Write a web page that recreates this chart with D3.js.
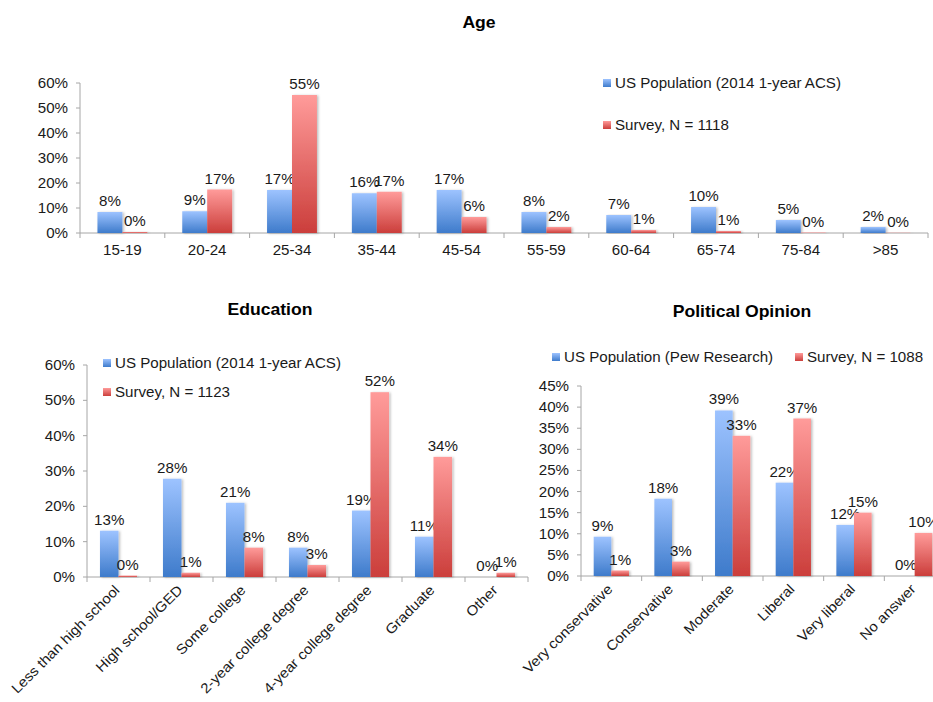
<!DOCTYPE html>
<html lang="en">
<head>
<meta charset="UTF-8">
<title>Age, Education and Political Opinion</title>
<script src="https://d3js.org/d3.v7.min.js"></script>
<style>
    body { margin: 0; background: #fff; }
    svg { display: block; font-family: Arial, "Liberation Sans", sans-serif; }
    .axis-line { stroke: #a6a6a6; stroke-width: 1; }
    .tick-label, .cat-label, .val-label, .legend-text { font-size: 14px; fill: #1a1a1a; }
    .title { font-size: 16px; font-weight: bold; fill: #000; }
</style>
</head>
<body>
<div id="chart"></div>
<script>
// Age
const ageCats = ["15-19", "20-24", "25-34", "35-44", "45-54", "55-59", "60-64", "65-74", "75-84", ">85"];
const agePop = [8.4, 8.7, 17.2, 15.9, 17.2, 8.4, 7.2, 10.4, 5.2, 2.4];
const ageSurvey = [0.4, 17.4, 55.2, 16.5, 6.4, 2.4, 1.2, 0.8, 0.2, 0.1];
const ageTicks = [0, 10, 20, 30, 40, 50, 60];
const ageLegend = ["US Population (2014 1-year ACS)", "Survey, N = 1118"];

// Education
const eduCats = ["Less than high school", "High school/GED", "Some college", "2-year college degree", "4-year college degree", "Graduate", "Other"];
const eduPop = [13.1, 27.8, 21.0, 8.3, 18.8, 11.4, 0];
const eduSurvey = [0.4, 1.2, 8.3, 3.4, 52.3, 34.0, 1.2];
const eduTicks = [0, 10, 20, 30, 40, 50, 60];
const eduLegend = ["US Population (2014 1-year ACS)", "Survey, N = 1123"];

// Political opinion
const polCats = ["Very conservative", "Conservative", "Moderate", "Liberal", "Very liberal", "No answer"];
const polPop = [9.3, 18.3, 39.2, 22.1, 12.1, 0];
const polSurvey = [1.3, 3.4, 33.2, 37.3, 15.0, 10.2];
const polTicks = [0, 5, 10, 15, 20, 25, 30, 35, 40, 45];
const polLegend = ["US Population (Pew Research)", "Survey, N = 1088"];

const series = ["pop", "survey"];
const STRETCH = 1.08;   // the original text is a little wider than Arial

const svg = d3.select("#chart").append("svg")
    .attr("width", 933)
    .attr("height", 702);

svg.append("rect").attr("width", 933).attr("height", 702).attr("fill", "#fff");

const defs = svg.append("defs");
function gradient(id, top, bottom) {
    const g = defs.append("linearGradient").attr("id", id)
        .attr("x1", 0).attr("y1", 0).attr("x2", 0).attr("y2", 1);
    g.append("stop").attr("offset", "0%").attr("stop-color", top);
    g.append("stop").attr("offset", "100%").attr("stop-color", bottom);
}
gradient("grad-pop", "#9dc3ff", "#3e7bcb");
gradient("grad-survey", "#ff9b9a", "#cb3e3b");

const shadow = defs.append("filter").attr("id", "shadow")
    .attr("x", "-20%").attr("y", "-5%").attr("width", "150%").attr("height", "110%");
shadow.append("feDropShadow").attr("dx", 1.5).attr("dy", 0.5)
    .attr("stdDeviation", 0.8).attr("flood-color", "#000").attr("flood-opacity", 0.25);

const fills = { pop: "url(#grad-pop)", survey: "url(#grad-survey)" };

// text placed at (x, y), stretched horizontally a bit
function label(g, cls, x, y, txt, anchor, rot, sx) {
    return g.append("text").attr("class", cls)
        .attr("text-anchor", anchor || "start")
        .attr("transform", `translate(${x},${y})` + (rot ? ` rotate(${rot})` : "") + ` scale(${sx || STRETCH},1)`)
        .text(txt);
}

function drawChart(cfg) {
    const g = svg.append("g");

    const x = d3.scaleBand().domain(cfg.cats).range([cfg.x0, cfg.x1]).padding(0);
    const xs = d3.scaleBand().domain(series).range([0, x.bandwidth()])
        .paddingInner(0).paddingOuter(cfg.outer);
    const y = d3.scaleLinear().domain([0, d3.max(cfg.ticks)]).range([cfg.yBottom, cfg.yTop]);

    // title
    label(g, "title", cfg.titleX, cfg.titleY, cfg.title, "middle", 0, 1.1);

    // y axis
    g.append("line").attr("class", "axis-line")
        .attr("x1", cfg.x0).attr("x2", cfg.x0)
        .attr("y1", y(d3.max(cfg.ticks))).attr("y2", cfg.yBottom);
    cfg.ticks.forEach(t => {
        g.append("line").attr("class", "axis-line")
            .attr("x1", cfg.x0 - 4).attr("x2", cfg.x0)
            .attr("y1", y(t)).attr("y2", y(t));
        label(g, "tick-label", cfg.x0 - 12, y(t) + 5, t + "%", "end");
    });

    // x axis
    g.append("line").attr("class", "axis-line")
        .attr("x1", cfg.x0).attr("x2", cfg.x1)
        .attr("y1", cfg.yBottom).attr("y2", cfg.yBottom);
    cfg.cats.concat([null]).forEach(c => {
        const px = c === null ? cfg.x1 : x(c);
        g.append("line").attr("class", "axis-line")
            .attr("x1", px).attr("x2", px)
            .attr("y1", cfg.yBottom).attr("y2", cfg.yBottom + 5);
    });

    // category labels
    cfg.cats.forEach(c => {
        const cx = x(c) + x.bandwidth() / 2;
        if (cfg.rotate) {
            label(g, "cat-label", cx + 2, cfg.yBottom + 14, c, "end", -45);
        } else {
            label(g, "cat-label", cx, cfg.yBottom + 22, c, "middle");
        }
    });

    // bars + labels
    const vals = { pop: cfg.pop, survey: cfg.survey };
    series.forEach(s => {
        cfg.cats.forEach((c, i) => {
            const v = vals[s][i];
            const bx = x(c) + xs(s);
            if (v > 0) {
                g.append("rect")
                    .attr("x", bx).attr("y", y(v))
                    .attr("width", xs.bandwidth())
                    .attr("height", cfg.yBottom - y(v))
                    .attr("fill", fills[s])
                    .attr("filter", "url(#shadow)");
            }
            label(g, "val-label", bx + xs.bandwidth() / 2, y(v) - 6, Math.round(v) + "%", "middle");
        });
    });

    // legend
    cfg.legend.forEach((txt, i) => {
        const lx = cfg.legendPos[i][0], ly = cfg.legendPos[i][1];
        g.append("rect").attr("x", lx).attr("y", ly - 4)
            .attr("width", 8).attr("height", 8)
            .attr("fill", fills[series[i]]);
        label(g, "legend-text", lx + 12, ly + 5, txt);
    });
}

drawChart({
    title: "Age", titleX: 479, titleY: 28,
    cats: ageCats, pop: agePop, survey: ageSurvey, ticks: ageTicks,
    x0: 80, x1: 928, yTop: 83, yBottom: 233, outer: 0.7, rotate: false,
    legend: ageLegend, legendPos: [[603, 83], [603, 125]]
});

drawChart({
    title: "Education", titleX: 270, titleY: 315,
    cats: eduCats, pop: eduPop, survey: eduSurvey, ticks: eduTicks,
    x0: 87, x1: 528, yTop: 365, yBottom: 577, outer: 0.7, rotate: true,
    legend: eduLegend, legendPos: [[103, 363], [103, 392]]
});

drawChart({
    title: "Political Opinion", titleX: 742, titleY: 317,
    cats: polCats, pop: polPop, survey: polSurvey, ticks: polTicks,
    x0: 581, x1: 945, yTop: 386, yBottom: 576, outer: 0.72, rotate: true,
    legend: polLegend, legendPos: [[552, 357], [795, 357]]
});
</script>
</body>
</html>
